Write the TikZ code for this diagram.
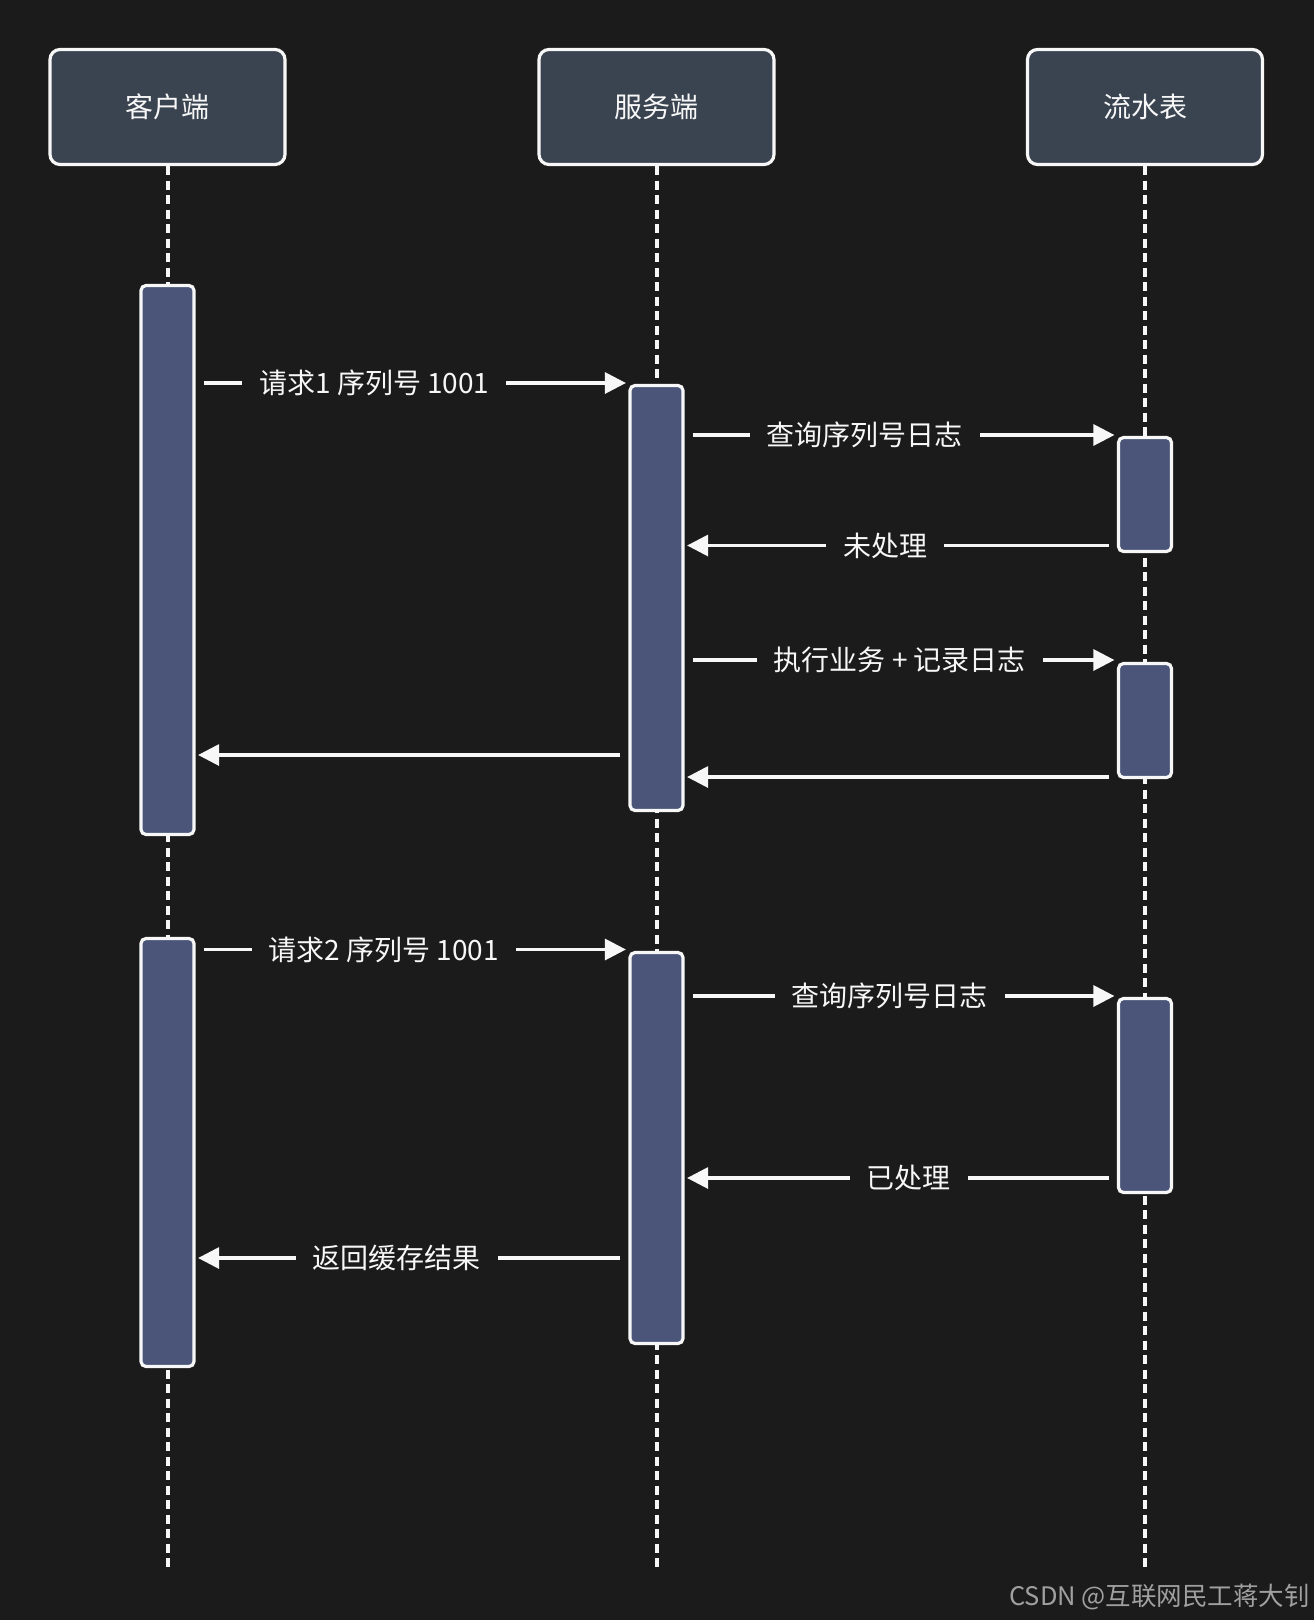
\documentclass[tikz,border=0pt]{standalone}
\usepackage{fontspec}
\setmainfont{Noto Sans CJK SC}
\usetikzlibrary{arrows.meta}
\definecolor{bg}{HTML}{1B1B1B}
\definecolor{headfill}{HTML}{3A4350}
\definecolor{barfill}{HTML}{4A5579}
\definecolor{ink}{HTML}{F7F7F7}
\definecolor{wmgray}{HTML}{A0A0A0}

\begin{document}
\begin{tikzpicture}[x=1pt,y=-1pt,
  head/.style={draw=ink,fill=headfill,line width=3.2pt,rounded corners=10pt,minimum width=235pt,minimum height=115pt,text=ink,font=\fontsize{28}{32}\selectfont},
  bar/.style={draw=ink,fill=barfill,line width=3.2pt,rounded corners=5pt,minimum width=53pt,inner sep=0pt},
  life/.style={ink,line width=4pt,dash pattern=on 9pt off 5.5pt},
  msg/.style={ink,line width=3.2pt,shorten <=8pt,shorten >=2.5pt,-{Triangle[length=21pt,width=21pt]}},
  lbl/.style={fill=bg,text=ink,inner xsep=17pt,inner ysep=2pt,font=\fontsize{28}{32}\selectfont}]
\fill[bg] (0,0) rectangle (1314,1620);
\useasboundingbox (0,0) rectangle (1314,1620);

% participants
\node[head] (client) at (167.5,107) {客户端};
\node[head] (server) at (656.5,107) {服务端};
\node[head] (ledger) at (1145,107) {流水表};
\foreach \n in {client,server,ledger} {
  \draw[life] (\n.south) -- (\n.south |- 0,1567);
}

% activations
\foreach \n/\x/\y/\h in %
{cb1/167.5/560/549, cb2/167.5/1152.5/428,
 sb1/656.5/598/425, sb2/656.5/1148/391,
 lb1/1145/494.5/114, lb2/1145/720.5/114, lb3/1145/1095.5/194} {
  \node[bar,minimum height=\h pt] (\n) at (\x,\y) {};
}

% first request
\draw[msg] (cb1.east |- 0,383) -- (sb1.west |- 0,383)
  node[lbl,pos=0.413] {请求1 序列号 1001};
\draw[msg] (sb1.east |- 0,435) -- (lb1.west |- 0,435)
  node[lbl,pos=0.417] {查询序列号日志};
\draw[msg] (lb1.west |- 0,545.5) -- (sb1.east |- 0,545.5)
  node[lbl,pos=0.536] {未处理};
\draw[msg] (sb1.east |- 0,660) -- (lb2.west |- 0,660)
  node[lbl,pos=0.498] {执行业务 + 记录日志};
\draw[msg] (sb1.west |- 0,755) -- (cb1.east |- 0,755);
\draw[msg] (lb2.west |- 0,777) -- (sb1.east |- 0,777);

% second request
\draw[msg] (cb2.east |- 0,949.5) -- (sb2.west |- 0,949.5)
  node[lbl,pos=0.435] {请求2 序列号 1001};
\draw[msg] (sb2.east |- 0,996) -- (lb3.west |- 0,996)
  node[lbl,pos=0.475] {查询序列号日志};
\draw[msg] (lb3.west |- 0,1178) -- (sb2.east |- 0,1178)
  node[lbl,pos=0.481] {已处理};
\draw[msg] (sb2.west |- 0,1258) -- (cb2.east |- 0,1258)
  node[lbl,pos=0.535] {返回缓存结果};

\node[anchor=east,text=wmgray,inner sep=0pt,font=\fontsize{25.5}{30}\selectfont] (watermark) at (1310,1597) {CSDN @互联网民工蒋大钊};
\end{tikzpicture}
\end{document}
